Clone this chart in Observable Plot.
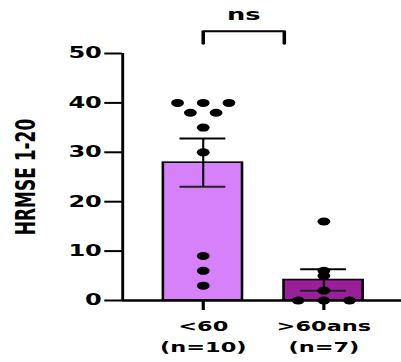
<!DOCTYPE html>
<html>
<head>
<meta charset="utf-8">
<script src="https://cdn.jsdelivr.net/npm/d3@7"></script>
<script src="https://cdn.jsdelivr.net/npm/@observablehq/plot@0.6"></script>
<style>
  html, body { margin: 0; padding: 0; background: #fff; }
  svg text { font-family: "DejaVu Sans", sans-serif; }
</style>
</head>
<body>
<div id="chart"></div>
<script>
// Groups and their sample sizes
const groups = ["<60", ">60ans"];
const groupN = ["(n=10)", "(n=7)"];
const groupColors = ["#d680fa", "#9a1f9a"];

// Individual scores per group
const under60 = [40, 40, 40, 38, 38, 35, 30, 9, 6, 3];
const over60 = [16, 6, 5, 2, 0, 0, 0];

// Y axis ticks and the comparison annotation
const yTicks = [0, 10, 20, 30, 40, 50];
const yLabel = "HRMSE 1-20";
const comparisonLabel = "ns";

const series = [under60, over60];

// Mean ± SEM for each group
const summary = series.map((vals, i) => {
  const mean = d3.mean(vals);
  const sem = d3.deviation(vals) / Math.sqrt(vals.length);
  return {i, group: groups[i], mean, lo: mean - sem, hi: mean + sem};
});

// Points with equal values are laid out side by side in a row
const points = [];
series.forEach((vals, i) => {
  const counts = d3.rollup(vals, v => v.length, v => v);
  const seen = new Map();
  vals.forEach(v => {
    const k = seen.get(v) || 0;
    seen.set(v, k + 1);
    points.push({i, value: v, slot: k - (counts.get(v) - 1) / 2});
  });
});

// Layout (drawn narrow, then stretched horizontally)
const W = 250, H = 362, OUT_W = 401;
const barHalf = 0.328, slotW = 0.213, capHalf = 0.19;
const xDomain = [-0.6676, 1.646];
const yTop = yTicks[yTicks.length - 1];

const plot = Plot.plot({
  width: W,
  height: H,
  marginLeft: 76,
  marginRight: 0,
  marginTop: 53,
  marginBottom: 62,
  x: {domain: xDomain},
  y: {domain: [0, yTop]},
  color: {domain: groups, range: groupColors},
  marks: [
    // bars
    Plot.rectY(summary, {
      x1: d => d.i - barHalf, x2: d => d.i + barHalf, y: "mean",
      fill: "group", stroke: "black", strokeWidth: 1.6
    }),
    // error bars
    Plot.ruleX(summary, {x: "i", y1: "lo", y2: "hi", stroke: "black", strokeWidth: 1.3}),
    Plot.ruleY(summary, {y: "hi", x1: d => d.i - capHalf, x2: d => d.i + capHalf, stroke: "black", strokeWidth: 2}),
    Plot.ruleY(summary, {y: "lo", x1: d => d.i - capHalf, x2: d => d.i + capHalf, stroke: "#222", strokeWidth: 2}),
    // individual values
    Plot.dot(points, {x: d => d.i + d.slot * slotW, y: "value", r: 4, fill: "black"}),
    // axes
    Plot.ruleY([0], {stroke: "black", strokeWidth: 2.4}),
    Plot.ruleX([xDomain[0]], {y1: 0, y2: yTop, stroke: "black", strokeWidth: 1.8}),
    Plot.axisY({
      ticks: yTicks, tickSize: 11, tickPadding: 2, strokeWidth: 2,
      fontSize: 15, fontWeight: "bold", fill: "black", label: null
    }),
    Plot.axisX({
      ticks: [0, 1], tickFormat: i => groups[i] + "\n" + groupN[i],
      tickSize: 10, tickPadding: 6, strokeWidth: 2, lineHeight: 1.5,
      fontSize: 14, fontWeight: "bold", fill: "black", label: null
    }),
    Plot.text([yLabel], {
      frameAnchor: "left", textAnchor: "middle", dx: -60, rotate: -90,
      fontSize: 17, fontWeight: "bold", fill: "black"
    }),
    // comparison bracket between the two groups
    Plot.line([
      {x: 0, y: yTop + 2}, {x: 0, y: yTop + 4.5},
      {x: 1 - barHalf, y: yTop + 4.5}, {x: 1 - barHalf, y: yTop + 2}
    ], {x: "x", y: "y", stroke: "black", strokeWidth: 2.2}),
    Plot.text([comparisonLabel], {
      x: (1 - barHalf) / 2, y: yTop + 7.8,
      fontSize: 16, fontWeight: "bold", fill: "black"
    })
  ]
});

plot.setAttribute("width", OUT_W);
plot.setAttribute("preserveAspectRatio", "none");
plot.style.maxWidth = "none";
document.getElementById("chart").appendChild(plot);
</script>
</body>
</html>
